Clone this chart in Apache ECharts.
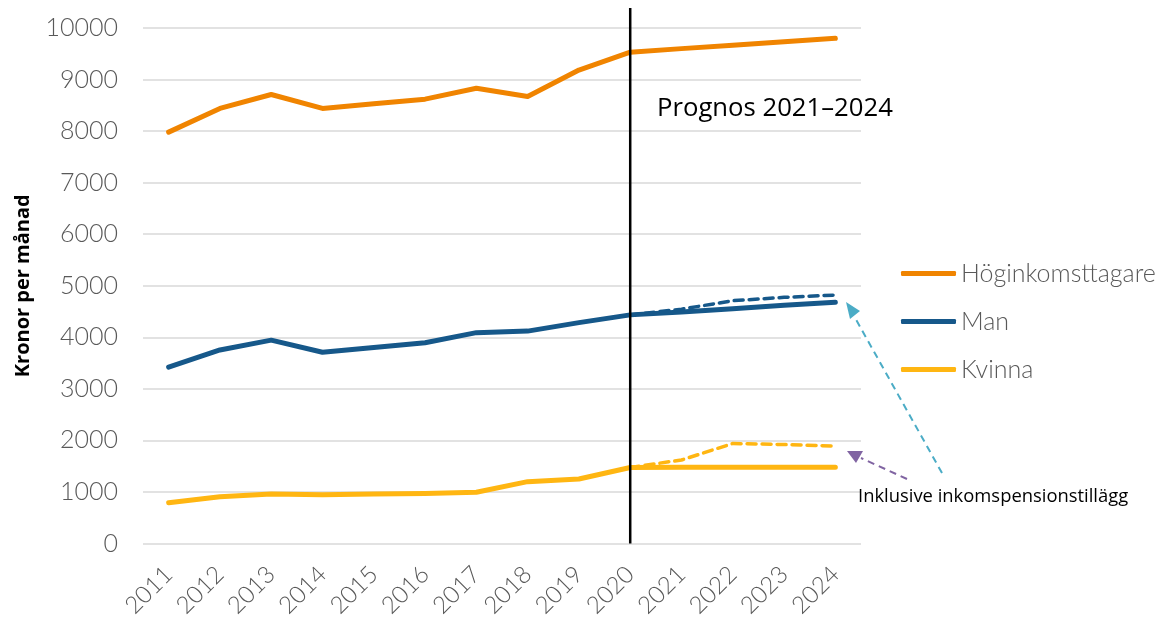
<!DOCTYPE html>
<html>
<head>
<meta charset="utf-8">
<script src="https://cdn.jsdelivr.net/npm/echarts@6/dist/echarts.min.js"></script>
<style>html,body{margin:0;padding:0;background:#fff;}#c{width:1157px;height:621px;}</style>
</head>
<body>
<div id="c"></div>
<script>
var years = ['2011','2012','2013','2014','2015','2016','2017','2018','2019','2020','2021','2022','2023','2024'];
var hoginkomst = [7980, 8440, 8710, 8440, 8530, 8620, 8830, 8670, 9185, 9530, 9600, 9665, 9735, 9800];
var man = [3420, 3755, 3945, 3710, 3800, 3895, 4090, 4120, 4285, 4435, 4490, 4555, 4620, 4680];
var kvinna = [790, 905, 960, 948, 960, 970, 993, 1200, 1250, 1475, 1480, 1480, 1480, 1480];
var manInkl = [null, null, null, null, null, null, null, null, null, 4435, 4545, 4710, 4775, 4820];
var kvinnaInkl = [null, null, null, null, null, null, null, null, null, 1475, 1620, 1940, 1920, 1890];
var yTicks = [0, 1000, 2000, 3000, 4000, 5000, 6000, 7000, 8000, 9000, 10000];
var prognosStart = '2020';

var C_ORANGE = '#F08400', C_BLUE = '#16588A', C_YELLOW = '#FFB612';
var FONT = 'Lato, "Open Sans", sans-serif';

var chart = echarts.init(document.getElementById('c'), null, {renderer: 'canvas'});
chart.setOption({
  animation: false,
  backgroundColor: '#fff',
  grid: {left: 143, right: 296, top: 28, bottom: 77.5, containLabel: false},
  legend: {
    orient: 'vertical', left: 896, top: 256,
    data: ['Höginkomsttagare', 'Man', 'Kvinna'],
    icon: 'roundRect', itemWidth: 55, itemHeight: 5, itemGap: 23,
    textStyle: {fontFamily: FONT, fontSize: 25, color: '#595959', fontWeight: 300}
  },
  xAxis: {
    type: 'category', data: years, boundaryGap: true,
    axisLine: {show: false}, axisTick: {show: false},
    axisLabel: {rotate: 45, interval: 0, margin: 27, fontFamily: FONT, fontSize: 24, color: '#595959', fontWeight: 300}
  },
  yAxis: {
    type: 'value', min: yTicks[0], max: yTicks[yTicks.length - 1], interval: 1000,
    name: 'Kronor per månad', nameLocation: 'middle', nameGap: 110,
    nameTextStyle: {fontFamily: '"Open Sans", sans-serif', fontSize: 20, fontWeight: 'bold', color: '#000'},
    axisLine: {show: false}, axisTick: {show: false},
    axisLabel: {margin: 25, fontFamily: FONT, fontSize: 25, color: '#595959', fontWeight: 300,
      formatter: function (v) { return String(v); }},
    splitLine: {lineStyle: {color: '#D9D9D9', width: 1.5}}
  },
  series: [
    {name: 'Höginkomsttagare', type: 'line', data: hoginkomst, showSymbol: false, color: C_ORANGE,
     lineStyle: {width: 5, cap: 'round', join: 'round'}, z: 3},
    {name: 'Man', type: 'line', data: man, showSymbol: false, color: C_BLUE,
     lineStyle: {width: 5, cap: 'round', join: 'round'}, z: 3},
    {name: 'Kvinna', type: 'line', data: kvinna, showSymbol: false, color: C_YELLOW,
     lineStyle: {width: 5, cap: 'round', join: 'round'}, z: 3},
    {name: 'Man inkl. inkomstpensionstillägg', type: 'line', data: manInkl, showSymbol: false, color: C_BLUE,
     lineStyle: {width: 3.5, type: [9, 6], cap: 'round'}, z: 2},
    {name: 'Kvinna inkl. inkomstpensionstillägg', type: 'line', data: kvinnaInkl, showSymbol: false, color: C_YELLOW,
     lineStyle: {width: 3.5, type: [9, 6], cap: 'round'}, z: 2}
  ]
});

var px = chart.convertToPixel({xAxisIndex: 0}, prognosStart);
var yBottom = chart.convertToPixel({yAxisIndex: 0}, yTicks[0]);
chart.setOption({
  graphic: [
    {type: 'line', z: 20, shape: {x1: px, y1: 8, x2: px, y2: yBottom},
     style: {stroke: '#000', lineWidth: 2.5}},
    {type: 'text', left: 657, top: 96, z: 10,
     style: {text: 'Prognos 2021–2024', font: '25.7px "Open Sans", sans-serif', fill: '#000'}},
    {type: 'text', left: 858, top: 488, z: 10,
     style: {text: 'Inklusive inkomspensionstillägg', font: '18.4px "Open Sans", sans-serif', fill: '#000'}},
    {type: 'line', z: 10, shape: {x1: 942, y1: 473, x2: 854, y2: 316},
     style: {stroke: '#4BACC6', lineWidth: 2, lineDash: [7, 5]}},
    {type: 'polygon', z: 10, shape: {points: [[846, 302], [860, 311], [850, 319]]},
     style: {fill: '#4BACC6'}},
    {type: 'line', z: 10, shape: {x1: 907, y1: 479, x2: 861, y2: 458},
     style: {stroke: '#8064A2', lineWidth: 2, lineDash: [7, 5]}},
    {type: 'polygon', z: 10, shape: {points: [[847, 451], [863, 451], [856, 463]]},
     style: {fill: '#8064A2'}}
  ]
});
</script>
</body>
</html>
